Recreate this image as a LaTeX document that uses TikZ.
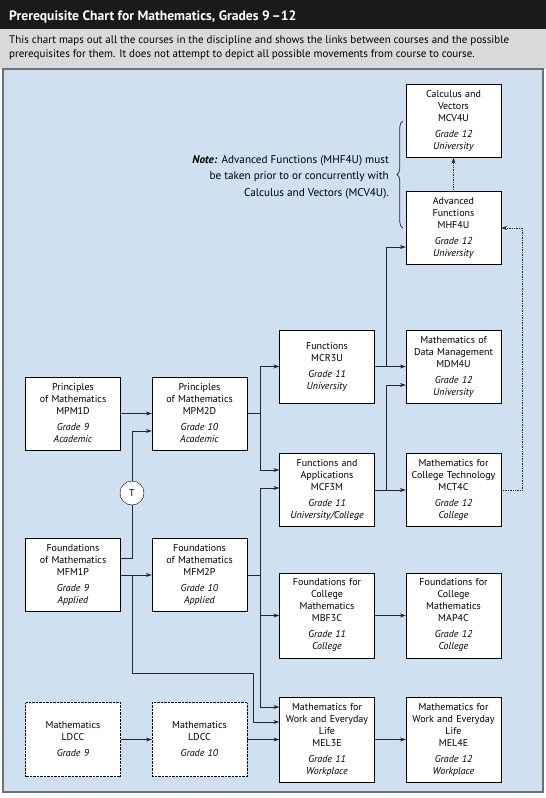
\documentclass[tikz,border=0pt]{standalone}
\usepackage{fontspec}
\setmainfont{PT Sans}
\usetikzlibrary{arrows.meta,positioning,decorations.pathreplacing}
\definecolor{titleblack}{RGB}{28,25,26}
\definecolor{bandgrey}{RGB}{217,217,217}
\definecolor{edgegrey}{RGB}{110,110,116}
\definecolor{panelblue}{RGB}{207,224,241}
\tikzset{
  basic/.style  = {draw, fill=white, rectangle, thin, align=center,
                   font=\fontsize{10}{12}\selectfont, inner xsep=1.5pt,
                   text width=92pt},
  course/.style = {basic, minimum height=73pt},
  tallcourse/.style = {basic, minimum height=85pt},
  local/.style = {basic, densely dotted, minimum height=74pt},
  tbox/.style = {circle, draw, fill=white, thin, minimum size=24pt,
                 inner sep=0pt, font=\fontsize{10}{12}\selectfont},
  line/.style = {draw, line width=0.7pt, black!85},
  link/.style = {line, ->},
  future/.style = {link, densely dotted}
}
\begin{document}
\begin{tikzpicture}[x=1pt, y=-1pt, >={Stealth[length=6pt,width=4pt]}]
\useasboundingbox (0,0) rectangle (546,798);

% header and panel
\fill[titleblack] (0,0) rectangle (546,29);
\fill[bandgrey] (0,29) rectangle (546,69);
\filldraw[fill=panelblue, draw=edgegrey, line width=2.2pt] (3,69) rectangle (543,792);
\node[anchor=base west, text=white, inner sep=0pt,
  font=\fontsize{13.6}{16}\selectfont\bfseries] (title) at (9,20)
  {Prerequisite Chart for Mathematics, Grades 9\,–12};
\node[anchor=north west, align=left, inner sep=0pt,
  font=\fontsize{11}{13.5}\selectfont] (intro) at (9,36)
  {This chart maps out all the courses in the discipline and shows the links between courses and the possible\\
   prerequisites for them. It does not attempt to depict all possible movements from course to course.};

% grade 9 and 10
\node[course] (mpm1d) at (73,413.5) {Principles\\of Mathematics\\MPM1D\\[4pt]\textit{Grade 9}\\\textit{Academic}};
\node[course] (mpm2d) at (199.5,413.5) {Principles\\of Mathematics\\MPM2D\\[4pt]\textit{Grade 10}\\\textit{Academic}};
\node[course] (mfm1p) at (73,575) {Foundations\\of Mathematics\\MFM1P\\[4pt]\textit{Grade 9}\\\textit{Applied}};
\node[course] (mfm2p) at (199.5,575) {Foundations\\of Mathematics\\MFM2P\\[4pt]\textit{Grade 10}\\\textit{Applied}};
\node[local] (ldcc9) at (73,739.5) {Mathematics\\LDCC\\[4pt]\textit{Grade 9}};
\node[local] (ldcc10) at (199.5,739.5) {Mathematics\\LDCC\\[4pt]\textit{Grade 10}};
\node[tbox] (tcirc) at (132,493) {T};

% grade 11
\node[course] (mcr3u) at (327,366.5) {Functions\\MCR3U\\[4pt]\textit{Grade 11}\\\textit{University}};
\node[course] (mcf3m) at (327,490) {Functions and\\Applications\\MCF3M\\[4pt]\textit{Grade 11}\\\textit{University/College}};
\node[tallcourse] (mbf3c) at (327,615.5) {Foundations for\\College\\Mathematics\\MBF3C\\[4pt]\textit{Grade 11}\\\textit{College}};
\node[tallcourse] (mel3e) at (327,739.5) {Mathematics for\\Work and Everyday\\Life\\MEL3E\\[4pt]\textit{Grade 11}\\\textit{Workplace}};

% grade 12
\node[course] (mcv4u) at (453.5,121) {Calculus and\\Vectors\\MCV4U\\[4pt]\textit{Grade 12}\\\textit{University}};
\node[course] (mhf4u) at (453.5,228) {Advanced\\Functions\\MHF4U\\[4pt]\textit{Grade 12}\\\textit{University}};
\node[course] (mdm4u) at (453.5,366.5) {Mathematics of\\Data Management\\MDM4U\\[4pt]\textit{Grade 12}\\\textit{University}};
\node[course] (mct4c) at (453.5,490) {Mathematics for\\College Technology\\MCT4C\\[4pt]\textit{Grade 12}\\\textit{College}};
\node[tallcourse] (map4c) at (453.5,615.5) {Foundations for\\College\\Mathematics\\MAP4C\\[4pt]\textit{Grade 12}\\\textit{College}};
\node[tallcourse] (mel4e) at (453.5,739.5) {Mathematics for\\Work and Everyday\\Life\\MEL4E\\[4pt]\textit{Grade 12}\\\textit{Workplace}};

% note with brace
\node[anchor=east, align=right, inner sep=0pt,
  font=\fontsize{11.2}{16.5}\selectfont] (note) at (389,177)
  {\textbf{\textit{Note:}} Advanced Functions (MHF4U) must\\
   be taken prior to or concurrently with\\
   Calculus and Vectors (MCV4U).};
\draw[line, decorate, decoration={brace, amplitude=6pt}]
  ([xshift=-3pt]mhf4u.west) -- ([xshift=-3pt]mcv4u.west);

% connectors
\draw[link] (mpm1d) -- (mpm2d);
\draw[line] ([yshift=17pt]mfm1p.east) -| (tcirc.south);
\draw[link] (tcirc.north) |- ([yshift=-17.5pt]mpm2d.west);
\draw[link] (mfm1p) -- (mfm2p);
\coordinate (lowbend) at (253,673);
\draw[link] (tcirc |- mfm1p.east) |- (lowbend) |- ([yshift=17.5pt]mel3e.west);
\draw[link] (mpm2d.east) -- ++(13,0) |- (mcr3u.west);
\draw[link] (mpm2d.east) -- ++(13,0) |- ([yshift=20pt]mcf3m.west);
\draw[link] (mfm2p.east) -- ++(13,0) |- ([yshift=2pt]mcf3m.west);
\draw[link] (mfm2p.east) -- ++(13,0) |- (mbf3c.west);
\draw[link] (mfm2p.east) -- ++(13,0) |- ([yshift=32.5pt]mel3e.west);
\draw[link] (mcr3u) -- (mdm4u);
\draw[link] (mcr3u.east) -- ++(12,0) |- ([yshift=-19pt]mhf4u.west);
\draw[link] (mcf3m) -- (mct4c);
\draw[link] (mcf3m.east) -- ++(12,0) |- ([yshift=-18.5pt]mdm4u.west);
\draw[future] (mct4c.east) -- ++(21,0) |- (mhf4u.east);
\draw[future] (mhf4u) -- (mcv4u);
\draw[link] (mbf3c) -- (map4c);
\draw[link] (mel3e) -- (mel4e);
\draw[link] (ldcc9) -- (ldcc10);
\draw[link] (ldcc10) -- (mel3e);
\end{tikzpicture}
\end{document}
